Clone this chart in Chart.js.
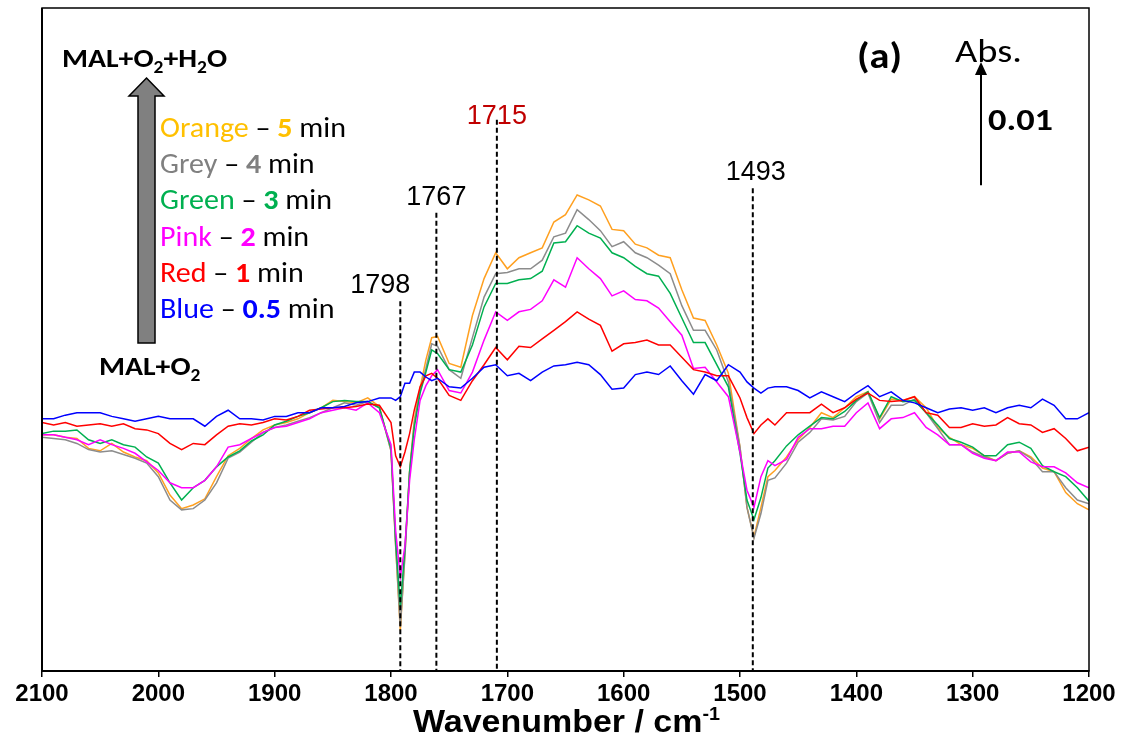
<!DOCTYPE html>
<html>
<head>
<meta charset="utf-8">
<title>MAL + O2 + H2O spectra</title>
<script src="https://cdn.jsdelivr.net/npm/chart.js@4.4.0/dist/chart.umd.min.js"></script>
<style>
  html, body { margin: 0; padding: 0; background: #fff; }
  #wrap { width: 1134px; height: 747px; }
</style>
</head>
<body>
<div id="wrap"><canvas id="chart" width="1134" height="747"></canvas></div>
<script>
// wavenumber grid (cm-1), denser around the two sharp dips
const wavenumbers = [
  2100, 2090, 2080, 2070, 2060, 2050, 2040, 2030, 2020, 2010,
  2000, 1990, 1980, 1970, 1960, 1950, 1940, 1930, 1920, 1910,
  1900, 1890, 1880, 1870, 1860, 1850, 1840, 1830, 1820, 1810,
  1800, 1796, 1792, 1788, 1784, 1780, 1775, 1770, 1765, 1760,
  1750, 1740, 1730, 1720, 1710, 1700, 1690, 1680, 1670, 1660,
  1650, 1640, 1630, 1620, 1610, 1600, 1590, 1580, 1570, 1560,
  1550, 1540, 1530, 1520, 1510,
  1500, 1494, 1488, 1482, 1476, 1470,
  1460, 1450, 1440, 1430, 1420, 1410, 1400, 1390, 1380, 1370,
  1360, 1350, 1340, 1330, 1320, 1310, 1300, 1290, 1280, 1270,
  1260, 1250, 1240, 1230, 1220, 1210, 1200
];

// absorbance, in units of 0.001 (relative)
const blue05min = [
  -0.7, -0.7, -0.4, -0.2, -0.2, -0.2, -0.5, -0.7, -0.9, -0.7,
  -0.5, -0.7, -0.7, -0.7, -1.3, -0.5, 0, -0.7, -0.7, -0.8,
  -0.5, -0.5, -0.2, -0.2, 0.2, 0.2, 0.3, 0.6, 0.7, 1.0,
  1.0, 0.8, 1.1, 2.2, 2.2, 3.1, 3.1, 2.7, 2.4, 2.6,
  1.9, 1.8, 2.6, 3.5, 3.7, 2.8, 3.0, 2.4, 3.1, 3.6,
  3.7, 3.9, 3.7, 2.9, 1.7, 1.8, 2.9, 3.1, 2.9, 3.6,
  2.4, 1.3, 2.9, 2.4, 3.7,
  3.1, 2.3, 1.8, 1.4, 1.8, 1.9,
  1.9, 1.6, 1.0, 1.5, 1.1, 0.7, 1.4, 2.0, 1.1, 1.5,
  0.8, 0.6, 0.2, -0.2, 0.1, 0.2, 0, 0.2, -0.2, 0.2,
  0.4, 0.2, 0.9, 0.4, -0.7, -0.7, -0.2
];
const red1min = [
  -1.0, -1.2, -1.0, -1.3, -1.2, -1.1, -1.3, -1.1, -1.5, -1.6,
  -1.9, -2.7, -3.2, -2.7, -2.8, -2.0, -1.3, -1.1, -1.2, -1.0,
  -0.7, -0.8, -0.5, 0, 0.1, 0.2, 0.2, 0.3, 0.5, 0.4,
  -1.0, -3.7, -4.6, -3.4, -1.9, 0, 1.9, 2.8, 3.0, 2.6,
  1.2, 0.8, 2.4, 3.7, 5.1, 4.1, 5.2, 5.1, 5.8, 6.5,
  7.2, 8.0, 7.4, 6.9, 4.8, 5.4, 5.5, 5.7, 5.3, 5.3,
  4.3, 3.3, 3.1, 2.8, 2.8,
  1.0, -0.6, -1.9, -1.2, -0.7, -1.2,
  -0.2, -0.2, -0.2, 0.5, -0.2, 0.2, 0.9, 1.4, 0.8, 0.7,
  0.8, 1.1, -0.2, -0.4, -1.4, -1.4, -1.1, -1.3, -1.2, -0.6,
  -1.1, -1.2, -1.8, -1.5, -2.3, -3.3, -3.0
];
const pink2min = [
  -2.0, -2.0, -2.2, -2.4, -2.8, -2.4, -2.8, -3.1, -3.5, -4.2,
  -4.9, -5.9, -6.3, -6.3, -5.7, -4.6, -3.0, -2.8, -2.3, -1.8,
  -1.4, -1.3, -1.0, -0.7, -0.2, 0, 0.2, 0, 0.6, -0.2,
  -2.8, -9.8, -13.6, -11.0, -5.7, -2.4, 0.8, 2.0, 2.8, 3.3,
  1.6, 1.4, 3.1, 5.7, 8.0, 7.3, 8.0, 8.2, 8.9, 10.6,
  10.0, 12.4, 11.5, 10.7, 9.3, 9.7, 9.0, 8.9, 8.3, 7.2,
  6.1, 3.4, 3.5, 2.3, 1.1,
  -3.4, -6.5, -7.9, -5.4, -4.1, -4.5,
  -4.0, -2.2, -1.5, -1.5, -1.3, -1.3, -0.2, 0.6, -1.5, -0.7,
  -0.6, -0.2, -1.4, -2.0, -2.8, -2.8, -3.5, -3.9, -4.1, -3.4,
  -3.4, -4.2, -4.6, -4.6, -5.1, -5.9, -6.3
];
const green3min = [
  -1.9, -1.7, -1.7, -1.6, -2.4, -2.7, -2.4, -2.8, -3.0, -3.8,
  -4.3, -5.9, -7.3, -6.3, -5.7, -4.6, -3.8, -3.3, -2.5, -2.0,
  -1.2, -0.9, -0.5, -0.2, 0.2, 0.7, 0.8, 0.7, 0.7, 0.2,
  -3.1, -10.6, -16.0, -11.2, -5.0, -1.4, 1.4, 3.1, 4.9, 4.6,
  3.3, 3.1, 5.3, 8.4, 10.3, 10.3, 10.6, 10.7, 11.3, 13.6,
  13.7, 15.0, 14.4, 14.0, 12.8, 12.4, 11.7, 11.1, 10.9, 9.5,
  7.5, 5.5, 5.5, 3.7, 1.9,
  -3.5, -7.3, -8.9, -7.1, -4.7, -4.1,
  -2.9, -2.0, -1.3, -0.6, -0.7, -0.1, 0.8, 1.5, -0.6, 1.1,
  0.7, 0.8, -0.2, -1.2, -2.3, -2.6, -3.0, -3.7, -3.7, -2.8,
  -2.6, -3.1, -4.5, -5.0, -5.4, -6.3, -7.4
];
const grey4min = [
  -2.2, -2.3, -2.4, -2.7, -3.2, -3.4, -3.3, -3.6, -3.9, -4.3,
  -5.4, -7.3, -8.1, -8.0, -7.3, -5.9, -3.9, -3.4, -2.6, -1.8,
  -1.4, -1.2, -0.9, -0.6, -0.2, 0.2, 0.6, 0.4, 0.7, 0.2,
  -3.3, -11.0, -17.6, -11.8, -5.0, -1.1, 1.6, 3.4, 5.4, 5.2,
  3.3, 2.6, 5.9, 9.2, 11.1, 11.2, 11.5, 11.5, 12.2, 14.1,
  14.4, 16.3, 15.5, 14.6, 13.3, 13.7, 12.8, 12.4, 11.8, 11.1,
  8.5, 6.5, 6.5, 4.9, 2.3,
  -3.0, -7.9, -10.4, -8.4, -5.7, -5.5,
  -4.3, -2.6, -1.8, -0.7, -0.8, -0.5, 0.7, 1.4, -1.0, 0.4,
  0.4, 0.9, -0.2, -1.5, -2.8, -2.8, -3.4, -3.8, -4.1, -3.5,
  -3.3, -3.9, -5.0, -5.0, -6.3, -7.3, -7.6
];
const orange5min = [
  -2.0, -2.0, -2.2, -2.3, -3.1, -3.3, -2.7, -3.4, -3.8, -4.1,
  -5.1, -6.9, -8.0, -7.7, -7.2, -5.4, -3.7, -3.1, -2.3, -1.6,
  -1.2, -1.0, -0.7, -0.2, 0.2, 0.8, 0.7, 0.6, 1.0, 0.3,
  -3.3, -11.0, -17.9, -11.6, -4.9, -0.8, 1.8, 4.1, 5.9, 6.0,
  3.8, 3.5, 7.7, 10.7, 12.8, 11.5, 12.4, 12.8, 13.2, 15.3,
  15.9, 17.5, 17.1, 16.6, 14.7, 14.6, 13.5, 13.2, 12.6, 12.4,
  9.8, 7.5, 7.3, 5.3, 3.0,
  -3.0, -7.9, -10.3, -7.9, -5.4, -4.9,
  -3.8, -2.4, -1.4, -0.2, -0.6, 0.2, 1.1, 1.5, -0.7, 0.9,
  0.8, 1.1, 0.2, -1.4, -2.2, -2.8, -3.1, -3.7, -4.1, -3.5,
  -3.3, -3.8, -4.7, -5.0, -6.7, -7.6, -8.1
];

// legend rows, top to bottom
const legendNames = ['Orange', 'Grey', 'Green', 'Pink', 'Red', 'Blue'];
const legendTimes = ['5', '4', '3', '2', '1', '0.5'];
const legendColors = ['#FFC000', '#808080', '#00B050', '#FF00FF', '#FF0000', '#0000FF'];

// marked bands: where the dashed line sits, and its label
const peakPositions = [1792, 1761, 1709, 1489];
const peakLabels = ['1798', '1767', '1715', '1493'];
const peakLabelColors = ['#000', '#000', '#C00000', '#000'];
const peakLabelLevels = [9.5, 16.7, 23.3, 18.7];  // label baseline, same units as the data

const xTicks = [2100, 2000, 1900, 1800, 1700, 1600, 1500, 1400, 1300, 1200];

const ARIAL = "'Liberation Sans', Arial, sans-serif";
const CALI = "Carlito, Calibri, Lato, 'Open Sans', sans-serif";

function pts(arr) {
  return wavenumbers.map((w, i) => ({ x: w, y: arr[i] }));
}

const series = [
  { label: 'Blue – 0.5 min', data: blue05min, color: '#0000FF' },
  { label: 'Red – 1 min', data: red1min, color: '#FF0000' },
  { label: 'Pink – 2 min', data: pink2min, color: '#FF00FF' },
  { label: 'Green – 3 min', data: green3min, color: '#00B050' },
  { label: 'Grey – 4 min', data: grey4min, color: '#8C8C8C' },
  { label: 'Orange – 5 min', data: orange5min, color: '#FFA020' }
];

function fontOf(r) {
  return (r.bold ? 'bold ' : '') + r.size + 'px ' + (r.family || CALI);
}
function runsWidth(ctx, runs) {
  let w = 0;
  runs.forEach(r => { ctx.font = fontOf(r); w += ctx.measureText(r.t).width; });
  return w;
}
// draws text pieces one after the other, squeezed/stretched sideways by k
function drawRuns(ctx, runs, x, y, k) {
  k = k || 1;
  ctx.save();
  ctx.translate(x, y);
  ctx.scale(k, 1);
  let cx = 0;
  runs.forEach(r => {
    ctx.font = fontOf(r);
    ctx.fillStyle = r.color || '#000';
    ctx.fillText(r.t, cx, r.dy || 0);
    cx += ctx.measureText(r.t).width;
  });
  ctx.restore();
}
function drawFit(ctx, runs, x, y, width) {
  drawRuns(ctx, runs, x, y, width / runsWidth(ctx, runs));
}

const overlay = {
  id: 'overlay',
  afterDraw(chart) {
    const { ctx, chartArea: a, scales: { x, y } } = chart;
    ctx.save();
    ctx.textAlign = 'left';
    ctx.textBaseline = 'alphabetic';

    // plot frame
    ctx.strokeStyle = '#000';
    ctx.lineWidth = 1.5;
    ctx.strokeRect(a.left, a.top, a.right - a.left, a.bottom - a.top);
    ctx.lineWidth = 2;
    ctx.beginPath(); ctx.moveTo(a.left, a.top); ctx.lineTo(a.left, a.bottom); ctx.stroke();

    // dashed band markers with labels
    peakPositions.forEach((p, i) => {
      const px = x.getPixelForValue(p);
      const ly = y.getPixelForValue(peakLabelLevels[i]);
      ctx.setLineDash([5, 3]);
      ctx.lineWidth = 2;
      ctx.strokeStyle = '#000';
      ctx.beginPath();
      ctx.moveTo(px, ly + (i === 2 ? -4 : 8));
      ctx.lineTo(px, a.bottom);
      ctx.stroke();
      ctx.setLineDash([]);
      ctx.font = '27px ' + ARIAL;
      ctx.fillStyle = peakLabelColors[i];
      ctx.textAlign = 'center';
      ctx.fillText(peakLabels[i], px + (i === 0 ? -20 : (i === 3 ? 3 : 0)), ly);
      ctx.textAlign = 'left';
    });

    // grey block arrow
    ctx.beginPath();
    ctx.moveTo(146.5, 78);
    ctx.lineTo(164, 96);
    ctx.lineTo(155, 96);
    ctx.lineTo(155, 343);
    ctx.lineTo(138, 343);
    ctx.lineTo(138, 96);
    ctx.lineTo(129, 96);
    ctx.closePath();
    ctx.fillStyle = '#808080';
    ctx.fill();
    ctx.lineWidth = 1.5;
    ctx.strokeStyle = '#000';
    ctx.stroke();

    // MAL labels
    const sTop = [
      { t: 'MAL+O', bold: true, size: 26 },
      { t: '2', bold: true, size: 17, dy: 6 },
      { t: '+H', bold: true, size: 26 },
      { t: '2', bold: true, size: 17, dy: 6 },
      { t: 'O', bold: true, size: 26 }
    ];
    const kTop = 165 / runsWidth(ctx, sTop);
    drawRuns(ctx, sTop, 62, 67, kTop);
    drawRuns(ctx, [
      { t: 'MAL+O', bold: true, size: 26 },
      { t: '2', bold: true, size: 17, dy: 6 }
    ], 99, 375, kTop);

    // legend text
    const rowRuns = i => [
      { t: legendNames[i], size: 28, color: legendColors[i] },
      { t: ' – ', size: 28 },
      { t: legendTimes[i], bold: true, size: 28, color: legendColors[i] },
      { t: ' min', size: 28 }
    ];
    const kLeg = 186 / runsWidth(ctx, rowRuns(0));
    legendNames.forEach((n, i) => drawRuns(ctx, rowRuns(i), 160, 137 + i * 36.2, kLeg));

    // (a), Abs. and the 0.01 scale bar
    drawFit(ctx, [{ t: '(a)', bold: true, size: 36 }], 857, 68, 45);
    drawFit(ctx, [{ t: 'Abs.', size: 33 }], 955, 62, 67);
    const bx = 981;
    const yb = y.getPixelForValue(18.3);
    const yt = y.getPixelForValue(18.3 + 10);
    ctx.lineWidth = 2;
    ctx.beginPath(); ctx.moveTo(bx, yb); ctx.lineTo(bx, yt + 12); ctx.stroke();
    ctx.beginPath();
    ctx.moveTo(bx, yt); ctx.lineTo(bx + 6, yt + 13); ctx.lineTo(bx - 6, yt + 13);
    ctx.closePath();
    ctx.fillStyle = '#000';
    ctx.fill();
    drawFit(ctx, [{ t: '0.01', bold: true, size: 31 }], 988, 130, 65);

    // axis title
    const title = [
      { t: 'Wavenumber / cm', bold: true, size: 31, family: ARIAL },
      { t: '-1', bold: true, size: 18, family: ARIAL, dy: -12 }
    ];
    drawFit(ctx, title, 413, 732, 307);

    ctx.restore();
  }
};

new Chart(document.getElementById('chart'), {
  type: 'line',
  data: {
    datasets: series.map(s => ({
      label: s.label,
      data: pts(s.data),
      borderColor: s.color,
      backgroundColor: s.color,
      borderWidth: 1.5,
      pointRadius: 0,
      tension: 0,
      fill: false
    }))
  },
  options: {
    responsive: false,
    animation: false,
    devicePixelRatio: 1,
    layout: { padding: { left: 42, right: 45, top: 8, bottom: 0 } },
    plugins: { legend: { display: false }, tooltip: { enabled: false } },
    scales: {
      x: {
        type: 'linear',
        reverse: true,
        min: 1200,
        max: 2100,
        afterFit(s) { s.height = 76; },
        afterBuildTicks(s) { s.ticks = xTicks.map(v => ({ value: v })); },
        border: { display: true, color: '#000', width: 2 },
        grid: { display: true, drawOnChartArea: false, drawTicks: true, tickLength: 6, color: '#000', lineWidth: 1.5 },
        ticks: {
          color: '#000',
          padding: 3,
          maxRotation: 0,
          autoSkip: false,
          callback: v => String(v),
          font: { family: ARIAL, size: 24, weight: 'bold' }
        }
      },
      y: { display: false, min: -21.2, max: 32.7 }
    }
  },
  plugins: [overlay]
});
</script>
</body>
</html>
